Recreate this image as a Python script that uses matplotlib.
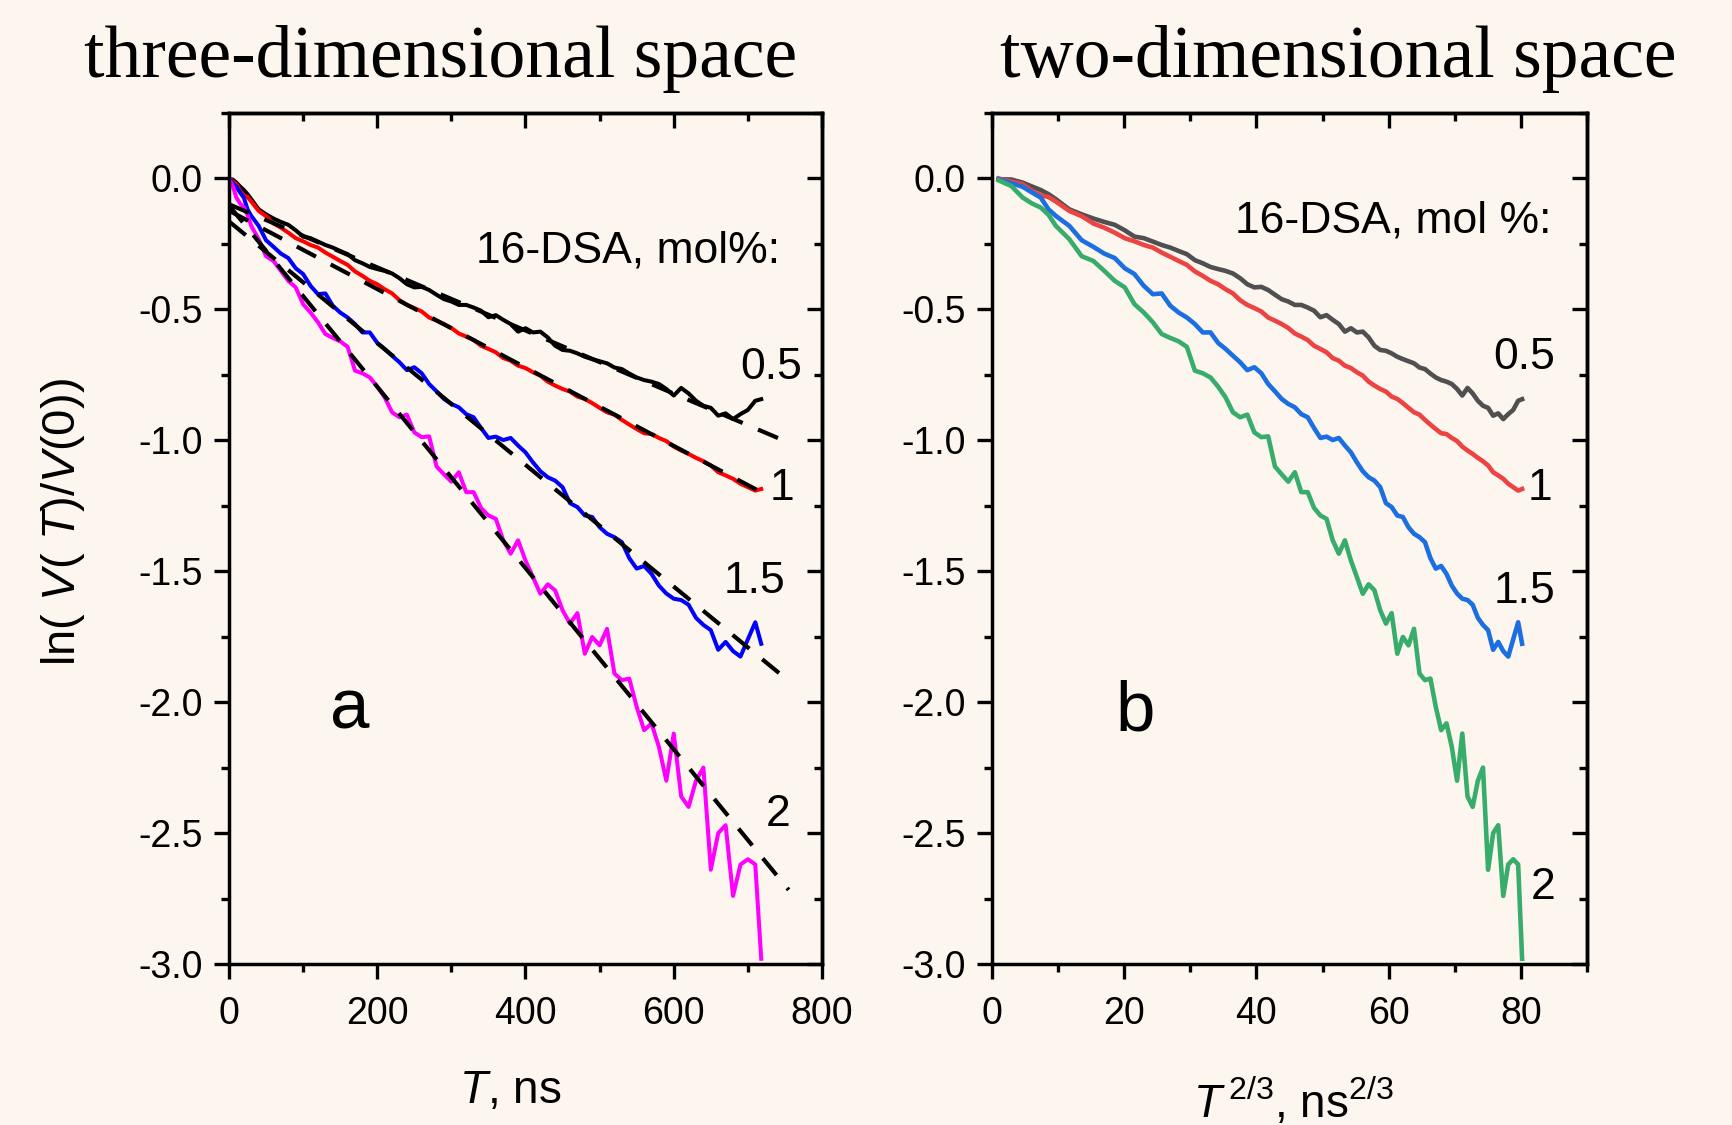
import numpy as np
import matplotlib
matplotlib.use("Agg")
import matplotlib.pyplot as plt
from matplotlib.ticker import MultipleLocator, FormatStrFormatter

# time grid, ns (same samples are used in both panels)
T_ns = [1, 5, 10, 15, 20, 25, 30] + list(range(40, 711, 10)) + [718]

# ln(V(T)/V(0)) for 16-DSA 0.5, 1, 1.5, 2 mol%
v_05 = [-0.003, -0.004, -0.016, -0.031, -0.044, -0.060, -0.079,
        -0.118, -0.137, -0.153, -0.166, -0.177, -0.198, -0.222, -0.228, -0.241, -0.254,
        -0.264, -0.277, -0.289, -0.312, -0.324, -0.338, -0.346, -0.353, -0.363, -0.381,
        -0.404, -0.416, -0.414, -0.426, -0.444, -0.461, -0.470, -0.483, -0.483, -0.493,
        -0.505, -0.530, -0.522, -0.540, -0.556, -0.585, -0.572, -0.588, -0.585, -0.607,
        -0.639, -0.655, -0.658, -0.668, -0.681, -0.690, -0.698, -0.706, -0.722, -0.728,
        -0.745, -0.760, -0.770, -0.776, -0.785, -0.804, -0.829, -0.800, -0.821, -0.849,
        -0.868, -0.876, -0.906, -0.897, -0.919, -0.900, -0.884, -0.849, -0.843]
v_1 = [0.0, -0.012, -0.022, -0.048, -0.064, -0.071, -0.088,
       -0.124, -0.144, -0.172, -0.188, -0.207, -0.228, -0.240, -0.254, -0.264, -0.283,
       -0.299, -0.315, -0.330, -0.355, -0.372, -0.391, -0.404, -0.423, -0.439, -0.465,
       -0.483, -0.495, -0.508, -0.531, -0.543, -0.556, -0.571, -0.592, -0.604, -0.617,
       -0.639, -0.651, -0.664, -0.686, -0.696, -0.715, -0.724, -0.740, -0.753, -0.776,
       -0.791, -0.804, -0.814, -0.833, -0.842, -0.858, -0.876, -0.893, -0.902, -0.922,
       -0.940, -0.957, -0.973, -0.976, -0.991, -1.003, -1.024, -1.039, -1.052, -1.067,
       -1.080, -1.096, -1.122, -1.134, -1.147, -1.166, -1.179, -1.192, -1.186]
v_15 = [-0.003, -0.018, -0.032, -0.054, -0.073, -0.118, -0.143,
        -0.181, -0.236, -0.261, -0.287, -0.304, -0.343, -0.365, -0.410, -0.442, -0.439,
        -0.486, -0.512, -0.531, -0.556, -0.588, -0.588, -0.628, -0.651, -0.677, -0.702,
        -0.732, -0.721, -0.744, -0.785, -0.813, -0.842, -0.861, -0.874, -0.900, -0.912,
        -0.953, -0.991, -0.986, -0.999, -0.991, -1.020, -1.046, -1.084, -1.118, -1.141,
        -1.154, -1.179, -1.240, -1.255, -1.287, -1.293, -1.332, -1.357, -1.370, -1.389,
        -1.450, -1.490, -1.480, -1.510, -1.555, -1.585, -1.605, -1.610, -1.628, -1.678,
        -1.705, -1.725, -1.800, -1.770, -1.805, -1.826, -1.760, -1.695, -1.777]
v_2 = [-0.007, -0.029, -0.073, -0.096, -0.111, -0.139, -0.181,
       -0.232, -0.297, -0.315, -0.353, -0.391, -0.416, -0.480, -0.512, -0.549, -0.594,
       -0.609, -0.622, -0.643, -0.734, -0.744, -0.760, -0.795, -0.836, -0.893, -0.912,
       -0.902, -0.970, -0.988, -0.985, -1.100, -1.130, -1.158, -1.122, -1.198, -1.198,
       -1.258, -1.287, -1.300, -1.382, -1.433, -1.382, -1.459, -1.522, -1.586, -1.550,
       -1.573, -1.649, -1.700, -1.660, -1.815, -1.751, -1.783, -1.720, -1.891, -1.916,
       -1.910, -2.018, -2.107, -2.081, -2.171, -2.300, -2.120, -2.360, -2.400, -2.300,
       -2.250, -2.640, -2.500, -2.470, -2.740, -2.620, -2.600, -2.620, -2.980]

# linear fits shown in panel a: (T start, T end), (value start, value end)
fit_T = {"0.5": (0, 752), "1": (0, 722), "1.5": (0, 752), "2": (0, 755)}
fit_v = {"0.5": (-0.0985, -1.005), "1": (-0.123, -1.204),
         "1.5": (-0.164, -1.912), "2": (-0.103, -2.717)}

labels = ["0.5", "1", "1.5", "2"]
colors_a = ["#000000", "#ff0000", "#0000ff", "#ff00ff"]
colors_b = ["#505050", "#ec4343", "#1c6fe0", "#38ad6b"]

BG = "#fdf6ef"

plt.rcParams["font.family"] = ["Liberation Sans", "DejaVu Sans"]
plt.rcParams["mathtext.fontset"] = "custom"
plt.rcParams["mathtext.rm"] = "Liberation Sans"
plt.rcParams["mathtext.it"] = "Liberation Sans:italic"
plt.rcParams["axes.unicode_minus"] = False


def style_axes(ax, xmax, xmajor, xminor):
    ax.set_facecolor(BG)
    ax.set_xlim(0, xmax)
    ax.set_ylim(-3.0, 0.25)
    for sp in ax.spines.values():
        sp.set_linewidth(2.5)
    ax.xaxis.set_major_locator(MultipleLocator(xmajor))
    ax.xaxis.set_minor_locator(MultipleLocator(xminor))
    ax.yaxis.set_minor_locator(MultipleLocator(0.25))
    ax.yaxis.set_major_formatter(FormatStrFormatter("%.1f"))
    ax.set_yticks(np.arange(-3.0, 0.01, 0.5))
    ax.tick_params(which="both", direction="out", width=2.4, labelsize=27)
    ax.tick_params(which="major", length=11)
    ax.tick_params(which="minor", length=6)
    ax.tick_params(axis="x", pad=12)
    ax.tick_params(axis="y", pad=8)
    if xmax == 90:
        ax.set_xticks([0, 20, 40, 60, 80])

    # mirrored ticks pointing inward on top and right
    top = ax.secondary_xaxis("top")
    top.xaxis.set_major_locator(MultipleLocator(xmajor))
    top.xaxis.set_minor_locator(MultipleLocator(xminor))
    top.tick_params(which="both", direction="in", width=2.4, labeltop=False)
    top.tick_params(which="major", length=11)
    top.tick_params(which="minor", length=6)
    top.spines["top"].set_linewidth(2.5)
    right = ax.secondary_yaxis("right")
    right.yaxis.set_major_locator(MultipleLocator(0.5))
    right.yaxis.set_minor_locator(MultipleLocator(0.25))
    right.tick_params(which="both", direction="in", width=2.4, labelright=False)
    right.tick_params(which="major", length=11)
    right.tick_params(which="minor", length=6)
    right.spines["right"].set_linewidth(2.5)


def main():
    fig = plt.figure(figsize=(17.33, 11.25), dpi=100, facecolor=BG)
    ax_a = fig.add_axes([229 / 1733, 161 / 1125, 593 / 1733, 851 / 1125])
    ax_b = fig.add_axes([992 / 1733, 161 / 1125, 595 / 1733, 851 / 1125])

    T = np.array(T_ns, dtype=float)
    series = [v_05, v_1, v_15, v_2]

    # panel a: ln V vs T
    style_axes(ax_a, 800, 200, 100)
    for lab, v, c in zip(labels, series, colors_a):
        ax_a.plot(T, v, color=c, lw=2.9, zorder=2)
    for lab in labels:
        ax_a.plot(fit_T[lab], fit_v[lab], color="black", lw=3.0,
                  dashes=(5.2, 4), zorder=3)

    # panel b: ln V vs T^(2/3)
    style_axes(ax_b, 90, 20, 10)
    for lab, v, c in zip(labels, series, colors_b):
        ax_b.plot(T ** (2 / 3), v, color=c, lw=3.3, zorder=2)

    # in-plot text
    fs = 32
    ax_a.text(743, -0.32, "16-DSA, mol%:", fontsize=fs, ha="right", va="baseline")
    for lab, (x, y) in zip(labels, [(773, -0.767), (762, -1.229), (750, -1.585), (758, -2.474)]):
        ax_a.text(x, y, lab, fontsize=fs, ha="right", va="baseline")
    ax_a.text(136, -2.10, "a", fontsize=51, ha="left", va="baseline")

    ax_b.text(84.7, -0.206, "16-DSA, mol %:", fontsize=fs, ha="right", va="baseline")
    for lab, (x, y) in zip(labels, [(85.2, -0.727), (84.7, -1.229), (85.2, -1.62), (85.2, -2.75)]):
        ax_b.text(x, y, lab, fontsize=fs, ha="right", va="baseline")
    ax_b.text(18.6, -2.11, "b", fontsize=51, ha="left", va="baseline")

    # titles and axis labels
    fig.text(441 / 1733, 1 - 77 / 1125, "three-dimensional space",
             family="Liberation Serif", fontsize=53, ha="center", va="baseline")
    fig.text(1338 / 1733, 1 - 77 / 1125, "two-dimensional space",
             family="Liberation Serif", fontsize=53, ha="center", va="baseline")
    fig.text(63 / 1733, 1 - 522 / 1125,
             r"ln( $\mathit{V}$( $\mathit{T}$)/$\mathit{V}$(0))",
             fontsize=34, rotation=90, ha="center", va="center")
    fig.text(510 / 1733, 1 - 1103 / 1125, r"$\mathit{T}$, ns",
             fontsize=33, ha="center", va="baseline")
    fig.text(1294 / 1733, 1 - 1118 / 1125, r"$\mathit{T}^{\,2/3}$, ns$^{2/3}$",
             fontsize=33, ha="center", va="baseline")

    fig.savefig("out.png", dpi=100, facecolor=BG)


if __name__ == "__main__":
    main()
